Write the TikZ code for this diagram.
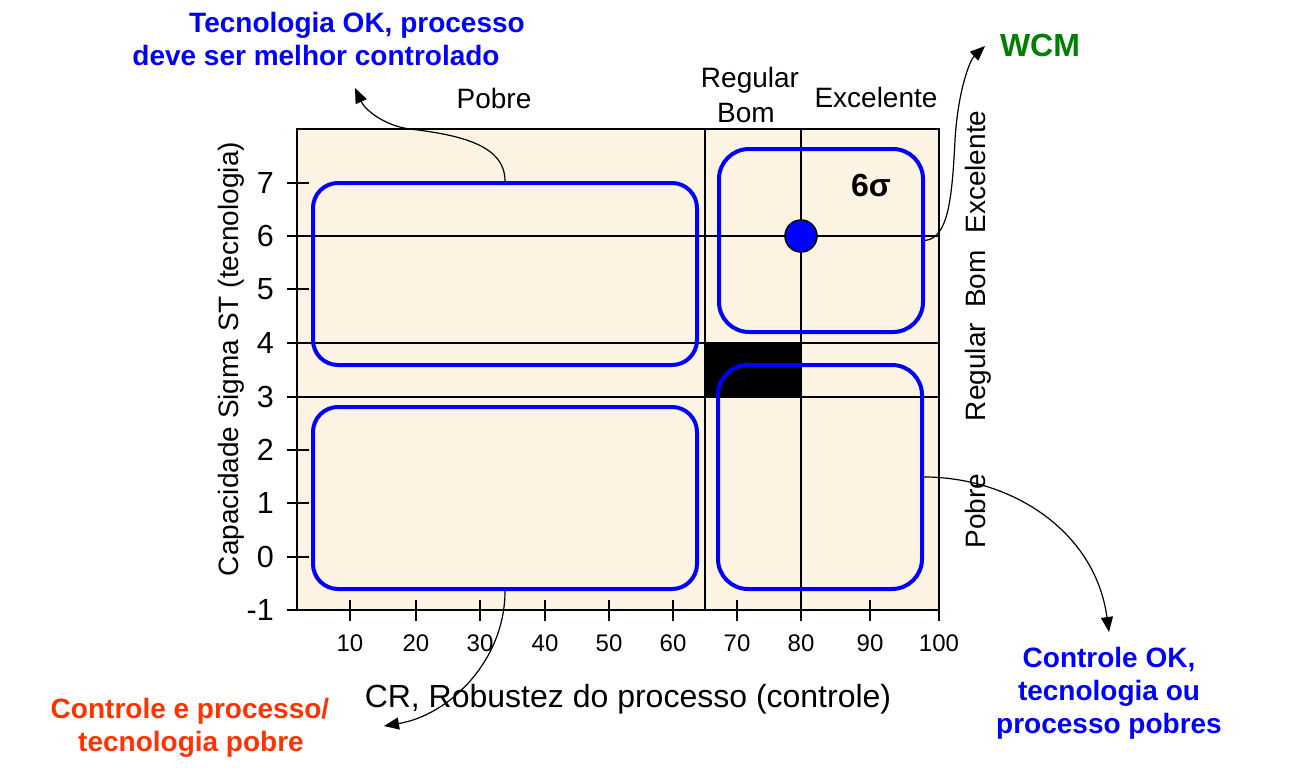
\documentclass[tikz,border=0pt]{standalone}
\usepackage{fontspec}
\setmainfont{Liberation Sans}
\usetikzlibrary{arrows.meta}
\definecolor{plotbg}{RGB}{253,243,226}
\definecolor{wcmgreen}{RGB}{0,128,0}
\definecolor{redorange}{RGB}{255,51,0}
\begin{document}
\begin{tikzpicture}[x=1pt,y=-1pt,
  lbl/.style={font=\fontsize{28}{33}\selectfont, inner sep=0pt, anchor=base},
  axlbl/.style={font=\fontsize{32}{36}\selectfont, inner sep=0pt, anchor=base},
  blbl/.style={font=\bfseries\fontsize{28}{33}\selectfont, inner sep=0pt, anchor=base},
  ytk/.style={font=\fontsize{30.5}{34}\selectfont, inner sep=0pt, anchor=east},
  xtk/.style={font=\fontsize{24}{28}\selectfont, inner sep=0pt},
  gridline/.style={line width=1.8pt},
  qbox/.style={draw=blue, line width=4pt, rounded corners=25pt, inner sep=0pt},
  arr/.style={line width=1.2pt, -{Triangle[length=15pt,width=12pt]}},
]
\useasboundingbox (0,0) rectangle (1302,768);

% plot area
\fill[plotbg] (297,129) rectangle (939,610);
\fill[black] (705,343) rectangle (801,397);
\foreach \yy in {236,343,397} \draw[gridline] (287,\yy) -- (939,\yy);
\foreach \yy in {183,289,450,503,557} \draw[gridline] (287,\yy) -- (309,\yy);
\foreach \xx in {350,416,480,545,609,673,737,870} \draw[gridline] (\xx,600) -- (\xx,621);
\draw[gridline] (705,129) -- (705,610);
\draw[gridline] (801,129) -- (801,621);
\draw[gridline] (287,610) -- (939,610);
\draw[gridline] (297,610) -- (297,129) -- (939,129) -- (939,621);

% quadrant boxes
\node[qbox, minimum width=384pt, minimum height=182pt] (tl) at (505,274) {};
\node[qbox, minimum width=384pt, minimum height=182pt] (bl) at (505,498) {};
\node[qbox, rounded corners=30pt, minimum width=204pt, minimum height=183pt] (tr) at (821,240.5) {};
\node[qbox, rounded corners=30pt, minimum width=204pt, minimum height=224pt] (br) at (820,477) {};
\node[circle, fill=blue, draw=black, line width=1.5pt, minimum size=32pt, inner sep=0pt] (dot) at (801,236) {};
\node[font=\bfseries\fontsize{32}{36}\selectfont, inner sep=0pt, anchor=base] (six) at (871,196) {6σ};

% tick labels
\foreach \v/\yy in {7/183,6/236,5/289,4/343,3/397,2/450,1/503,0/557,-1/610}
  \node[ytk] (y\v) at (274,\yy) {\v};
\foreach \v/\xx in {10/350,20/416,30/480,40/545,50/609,60/673,70/737,80/801,90/870,100/939}
  \node[xtk] (x\v) at (\xx,643) {\v};

% axis titles
\node[axlbl] (xtitle) at (628,707) {CR, Robustez do processo (controle)};
\node[lbl, rotate=90] (ytitle) at (238,359) {Capacidade Sigma ST (tecnologia)};

% category labels
\node[lbl] (cpobre) at (494,108) {Pobre};
\node[lbl] (creg) at (750,88) {Regular};
\node[lbl] (cbom) at (746,122) {Bom};
\node[lbl] (cexc) at (876,107) {Excelente};
\node[lbl, rotate=90] (rexc) at (985,172) {Excelente};
\node[lbl, rotate=90] (rbom) at (985,279) {Bom};
\node[lbl, rotate=90] (rreg) at (985,372) {Regular};
\node[lbl, rotate=90] (rpob) at (985,511) {Pobre};

% annotations
\node[blbl, text=blue] (ta1) at (357,33) {Tecnologia OK, processo};
\node[blbl, text=blue] (ta2) at (316,66) {deve ser melhor controlado};
\node[blbl, text=wcmgreen, font=\bfseries\fontsize{32}{36}\selectfont] (wcm) at (1040,57) {WCM};
\node[blbl, text=blue] (ba1) at (1109,667) {Controle OK,};
\node[blbl, text=blue] (ba2) at (1109,700) {tecnologia ou};
\node[blbl, text=blue] (ba3) at (1109,733) {processo pobres};
\node[blbl, text=redorange] (ra1) at (190,718) {Controle e processo/};
\node[blbl, text=redorange] (ra2) at (191,751) {tecnologia pobre};

% connector ends
\coordinate (e1) at (355,88);
\coordinate (e2) at (985,46);
\coordinate (e3) at (1109,632);
\coordinate (e4) at (384,726);

\draw[arr] (tl.north) .. controls (505,145) and (460,135) .. (410,129)
  .. controls (385,126) and (365,110) .. (e1);
\draw[arr] (tr.east) .. controls (948,238) and (952,200) .. (955,140)
  .. controls (958,90) and (970,60) .. (e2);
\draw[arr] (br.east) .. controls (1010,477) and (1095,530) .. (e3);
\draw[arr] (bl.south) .. controls (505,660) and (450,715) .. (e4);
\end{tikzpicture}
\end{document}
